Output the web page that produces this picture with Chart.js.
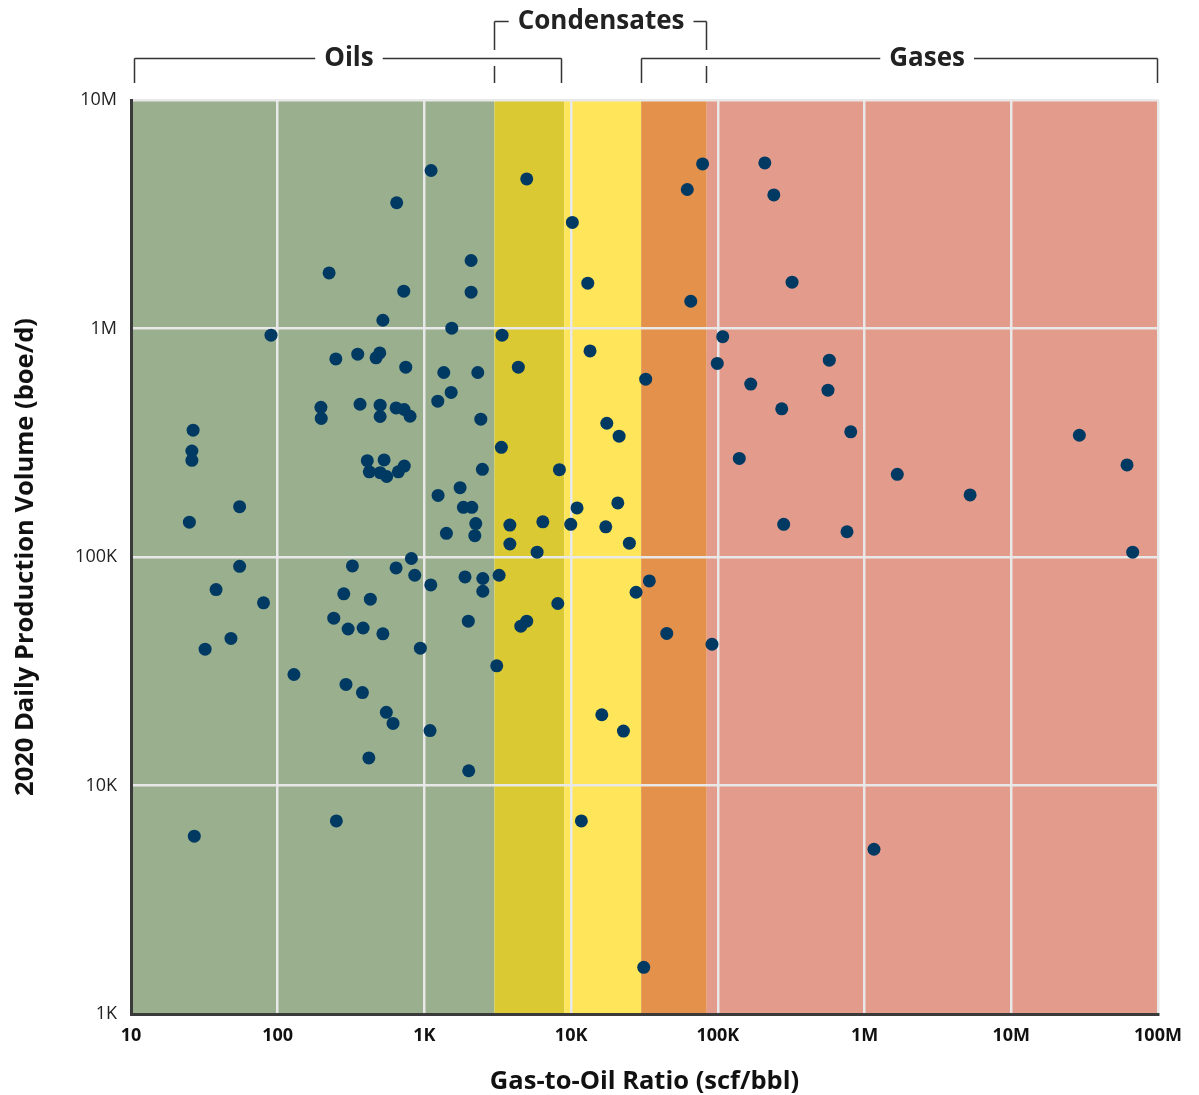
<!DOCTYPE html>
<html>
<head>
<meta charset="utf-8">
<title>Gas-to-Oil Ratio vs 2020 Production</title>
<script src="https://cdn.jsdelivr.net/npm/chart.js@4.4.1/dist/chart.umd.min.js"></script>
<style>
    html, body { margin: 0; padding: 0; background: #ffffff; }
    #wrap { width: 1199px; height: 1095px; }
</style>
</head>
<body>
<div id="wrap"><canvas id="gorChart" width="1199" height="1095"></canvas></div>
<script>
// Gas-to-oil ratio (scf/bbl) of each field
const gasOilRatio = [
    27, 25, 26.5, 26, 26, 55, 38, 32, 48, 55,
    80, 90, 129, 197, 198, 224, 249, 241, 251, 282,
    302, 292, 323, 351, 364, 382, 378, 408, 421, 418,
    428, 468, 496, 499, 499, 521, 521, 499, 531, 553,
    550, 611, 647, 641, 641, 664, 723, 729, 746, 727,
    798, 815, 859, 938, 1110, 1105, 1092, 1233, 1239, 1355,
    1412, 1521, 1536, 1750, 1843, 1891, 1991, 2004, 2080, 2080,
    2103, 2238, 2205, 2310, 2423, 2483, 2500, 2500, 3112, 3229,
    3382, 3345, 4364, 4980, 3822, 3822, 4540, 4980, 5862, 6412,
    8109, 8318, 10190, 9940, 10970, 11740, 12980, 13450, 16180, 17220,
    17500, 20800, 21230, 22720, 24940, 27700, 31240, 32220, 34100, 44850,
    61900, 65370, 78700, 91200, 99100, 107900, 140000, 167500, 209000, 240700,
    272500, 281000, 320500, 563000, 575000, 759000, 805000, 1159000, 1671000, 5240000,
    29100000, 61500000, 67200000
];

// 2020 daily production volume (boe/d), same order
const dailyVolume = [
    6000, 142000, 359000, 291000, 265000, 166000, 72000, 39500, 44000, 91000,
    63000, 935000, 30600, 452000, 404000, 1750000, 736000, 54000, 7000, 69000,
    48400, 27700, 91400, 772000, 466000, 48900, 25500, 264000, 236000, 13200,
    65400, 744000, 782000, 462000, 412000, 1087000, 46100, 234000, 266000, 225000,
    20900, 18700, 3550000, 89600, 449000, 236000, 1456000, 250000, 677000, 442000,
    413000, 98500, 83200, 39900, 4915000, 75500, 17400, 481000, 186000, 642000,
    127000, 525000, 1003000, 201000, 165000, 81800, 52400, 11600, 1984000, 1442000,
    165000, 140000, 124000, 642000, 401000, 242000, 80500, 70800, 33400, 83200,
    935000, 302000, 677000, 4515000, 138000, 114000, 49800, 52400, 105000, 142500,
    62600, 241000, 2911000, 139000, 164000, 7000, 1579000, 798000, 20400, 135500,
    385000, 172500, 338000, 17300, 115000, 70100, 1600, 600000, 78600, 46300,
    4058000, 1316000, 5252000, 41500, 703000, 921000, 270000, 571000, 5306000, 3843000,
    445000, 139000, 1595000, 537000, 727000, 129000, 353000, 5260, 230000, 187000,
    341000, 253000, 105000
];

// Ticks (decades only)
const xTickValues = [10, 100, 1e3, 1e4, 1e5, 1e6, 1e7, 1e8];
const xTickLabels = ['10', '100', '1K', '10K', '100K', '1M', '10M', '100M'];
const yTickValues = [1e3, 1e4, 1e5, 1e6, 1e7];
const yTickLabels = ['1K', '10K', '100K', '1M', '10M'];

// Background bands (GOR ranges)
const bandFrom = [10, 3000, 9000, 30000, 84000];
const bandTo = [3000, 9000, 30000, 84000, 1e8];
const bandColors = ['#9aaf8e', '#dbc934', '#fee55a', '#e3914b', '#e39b8c'];

// Brackets above the chart
const bracketLabels = ['Oils', 'Condensates', 'Gases'];
const bracketFrom = [10.5, 3000, 30000];
const bracketTo = [8700, 84000, 1e8];
const bracketTextAt = [306, 16000, 2670000];
const bracketLevel = [58, 21, 58];

const fontStack = "'Open Sans', Lato, sans-serif";
Chart.defaults.font.family = fontStack;
Chart.defaults.color = '#222';

// Bands drawn before the grid
const bandsPlugin = {
    id: 'bands',
    beforeDraw(chart) {
        const {ctx, chartArea, scales} = chart;
        ctx.save();
        for (let i = 0; i < bandFrom.length; i++) {
            const x0 = scales.x.getPixelForValue(bandFrom[i]);
            const x1 = scales.x.getPixelForValue(bandTo[i]);
            ctx.fillStyle = bandColors[i];
            ctx.fillRect(x0, chartArea.top, x1 - x0, chartArea.bottom - chartArea.top);
        }
        ctx.restore();
    }
};

// Bracket annotations (Oils / Condensates / Gases)
const bracketsPlugin = {
    id: 'brackets',
    afterDraw(chart) {
        const {ctx, scales} = chart;
        const tickBottom = 83;
        ctx.save();
        ctx.strokeStyle = '#333';
        ctx.lineWidth = 1.5;
        ctx.font = "bold 26px " + fontStack;
        ctx.textAlign = 'center';
        ctx.textBaseline = 'middle';
        ctx.fillStyle = '#222';
        for (let i = 0; i < bracketLabels.length; i++) {
            const x0 = Math.round(scales.x.getPixelForValue(bracketFrom[i])) + 0.5;
            const x1 = Math.round(scales.x.getPixelForValue(bracketTo[i])) - 0.5;
            const tx = scales.x.getPixelForValue(bracketTextAt[i]);
            const y = bracketLevel[i] + 0.5;
            const tw = ctx.measureText(bracketLabels[i]).width;
            const gapL = tx - tw / 2 - 9;
            const gapR = tx + tw / 2 + 9;

            ctx.beginPath();
            ctx.moveTo(x0, y); ctx.lineTo(gapL, y);
            ctx.moveTo(gapR, y); ctx.lineTo(x1, y);
            if (bracketLevel[i] < 40) {
                // upper bracket crosses the lower ones: leave a small gap
                ctx.moveTo(x0, y); ctx.lineTo(x0, 50);
                ctx.moveTo(x0, 66); ctx.lineTo(x0, tickBottom);
                ctx.moveTo(x1, y); ctx.lineTo(x1, 50);
                ctx.moveTo(x1, 66); ctx.lineTo(x1, tickBottom);
            } else {
                ctx.moveTo(x0, y); ctx.lineTo(x0, tickBottom);
                ctx.moveTo(x1, y); ctx.lineTo(x1, tickBottom);
            }
            ctx.stroke();
            ctx.fillText(bracketLabels[i], tx, bracketLevel[i] + 1);
        }
        ctx.restore();
    }
};

const points = gasOilRatio.map((g, i) => ({x: g, y: dailyVolume[i]}));

new Chart(document.getElementById('gorChart'), {
    type: 'scatter',
    data: {
        datasets: [{
            data: points,
            backgroundColor: '#003a63',
            borderColor: '#003a63',
            borderWidth: 0,
            pointRadius: 6.5,
            pointHoverRadius: 6.5
        }]
    },
    options: {
        responsive: false,
        animation: false,
        layout: {
            padding: {top: 100, right: 41, left: 0, bottom: 0}
        },
        plugins: {
            legend: {display: false},
            tooltip: {enabled: false}
        },
        scales: {
            x: {
                type: 'logarithmic',
                min: 10,
                max: 1e8,
                afterBuildTicks: (scale) => { scale.ticks = xTickValues.map(v => ({value: v})); },
                afterFit: (scale) => { scale.height = 81; },
                ticks: {
                    autoSkip: false,
                    maxRotation: 0,
                    padding: 11,
                    color: '#111',
                    font: {size: 18, weight: 'bold'},
                    callback: (value) => xTickLabels[xTickValues.indexOf(value)] ?? ''
                },
                grid: {
                    color: '#e8e8e8',
                    lineWidth: 2.5,
                    drawTicks: false
                },
                border: {display: true, color: '#3a3a3a', width: 3},
                title: {
                    display: true,
                    text: 'Gas-to-Oil Ratio (scf/bbl)',
                    color: '#111',
                    font: {size: 25.5, weight: 'bold'},
                    padding: {top: 0, bottom: -2}
                }
            },
            y: {
                type: 'logarithmic',
                min: 1e3,
                max: 1e7,
                afterBuildTicks: (scale) => { scale.ticks = yTickValues.map(v => ({value: v})); },
                afterFit: (scale) => { scale.width = 131; },
                ticks: {
                    autoSkip: false,
                    padding: 14,
                    color: '#222',
                    font: {size: 18},
                    callback: (value) => yTickLabels[yTickValues.indexOf(value)] ?? ''
                },
                grid: {
                    color: '#e8e8e8',
                    lineWidth: 2.5,
                    drawTicks: false
                },
                border: {display: true, color: '#3a3a3a', width: 3},
                title: {
                    display: true,
                    text: '2020 Daily Production Volume (boe/d)',
                    color: '#111',
                    font: {size: 25.5, weight: 'bold'},
                    padding: {top: 10, bottom: 0}
                }
            }
        }
    },
    plugins: [bandsPlugin, bracketsPlugin]
});
</script>
</body>
</html>
